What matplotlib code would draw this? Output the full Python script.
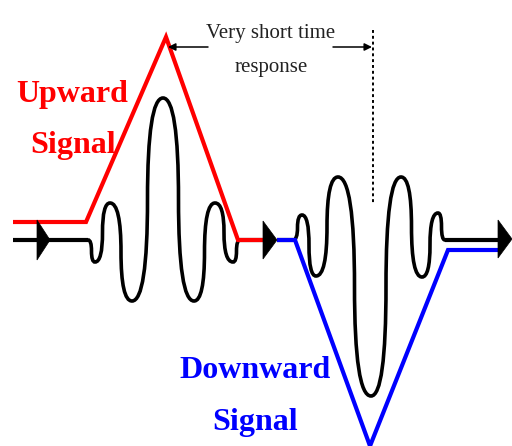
import matplotlib
matplotlib.use("Agg")
import matplotlib.pyplot as plt
from matplotlib.path import Path
from matplotlib.patches import PathPatch, Polygon

# ---- diagram data (pixel coordinates of the reference, y downward) ----
red_x = [13, 86, 166, 238, 263]
red_y = [222, 222, 37, 240, 240]

blue_x = [277, 295, 370, 448, 498]
blue_y = [240, 240, 446, 250, 250]

wave1_x = [88, 95, 110, 132, 163, 194, 215, 233, 240]
wave1_y = [240, 262, 203, 301, 98, 301, 203, 262, 240]

wave2_x = [293, 302, 316, 338, 371, 401, 422, 438, 445]
wave2_y = [240, 215, 276, 177, 396, 177, 277, 213, 240]

base_line_x = [[13, 88], [240, 263], [277, 293], [445, 498]]
base_line_y = 240

arrow_base_x = [37, 263, 498]
arrow_tip_x = [50, 277, 512]
arrow_y = [240, 240, 239]
arrow_half = [20, 19, 19]

dotted_x = 373
dotted_y = [30, 203]
note_y = 47
note_left = [208, 168]
note_right = [333, 372]

labels_up = ["Upward", "Signal"]
labels_up_xy = [(72, 102), (73, 153)]
labels_down = ["Downward", "Signal"]
labels_down_xy = [(255, 378), (255, 430)]
note_text = ["Very short time", "response"]
note_xy = [(271, 38), (271, 72)]

RED = "#ff0000"
BLUE = "#0000ff"
K = 0.66


def wave_path(xs, ys):
    verts = [(xs[0], ys[0])]
    codes = [Path.MOVETO]
    for i in range(len(xs) - 1):
        ax_, ay_ = xs[i], ys[i]
        bx, by = xs[i + 1], ys[i + 1]
        mx, my = (ax_ + bx) / 2, (ay_ + by) / 2
        verts += [(ax_ + K * (mx - ax_), ay_), (mx, my - K * (my - ay_)), (mx, my)]
        verts += [(mx, my + K * (by - my)), (bx - K * (bx - mx), by), (bx, by)]
        codes += [Path.CURVE4] * 6
    return Path(verts, codes)


fig = plt.figure(figsize=(5.12, 4.46), dpi=100)
ax = fig.add_axes([0, 0, 1, 1])
ax.set_xlim(0, 512)
ax.set_ylim(446, 0)
ax.axis("off")

# black base lines and waves
for xs in base_line_x:
    ax.plot(xs, [base_line_y, base_line_y], color="black", lw=3.0,
            solid_capstyle="butt", zorder=2)
for xs, ys in [(wave1_x, wave1_y), (wave2_x, wave2_y)]:
    ax.add_patch(PathPatch(wave_path(xs, ys), fill=False, edgecolor="black",
                           lw=2.6, zorder=2, capstyle="round"))

# arrowheads
for bx, tx, yy, h in zip(arrow_base_x, arrow_tip_x, arrow_y, arrow_half):
    ax.add_patch(Polygon([(bx, yy - h), (tx, yy), (bx, yy + h)], closed=True,
                         facecolor="black", edgecolor="black", lw=0.5, zorder=5))

# red and blue envelopes
ax.plot(red_x, red_y, color=RED, lw=3.0, solid_joinstyle="miter",
        solid_capstyle="butt", zorder=3)
ax.plot(blue_x, blue_y, color=BLUE, lw=3.0, solid_joinstyle="miter",
        solid_capstyle="butt", zorder=3)

# dotted marker and annotation arrows
ax.plot([dotted_x, dotted_x], dotted_y, color="black", lw=1.4,
        linestyle=(0, (1.5, 1.5)), zorder=2)
for (x0, x1) in [note_left, note_right]:
    ax.annotate("", xy=(x1, note_y), xytext=(x0, note_y),
                arrowprops=dict(arrowstyle="-|>", lw=1.1, color="black",
                                mutation_scale=11, shrinkA=0, shrinkB=0))

serif = ["Liberation Serif", "DejaVu Serif"]
for t, (x, y) in zip(note_text, note_xy):
    ax.text(x, y, t, ha="center", va="baseline", fontsize=15,
            family=serif, color="#222222")
for t, (x, y) in zip(labels_up, labels_up_xy):
    ax.text(x, y, t, ha="center", va="baseline", fontsize=23,
            family=serif, fontweight="bold", color=RED)
for t, (x, y) in zip(labels_down, labels_down_xy):
    ax.text(x, y, t, ha="center", va="baseline", fontsize=23,
            family=serif, fontweight="bold", color=BLUE)

fig.savefig("out.png", dpi=100)
